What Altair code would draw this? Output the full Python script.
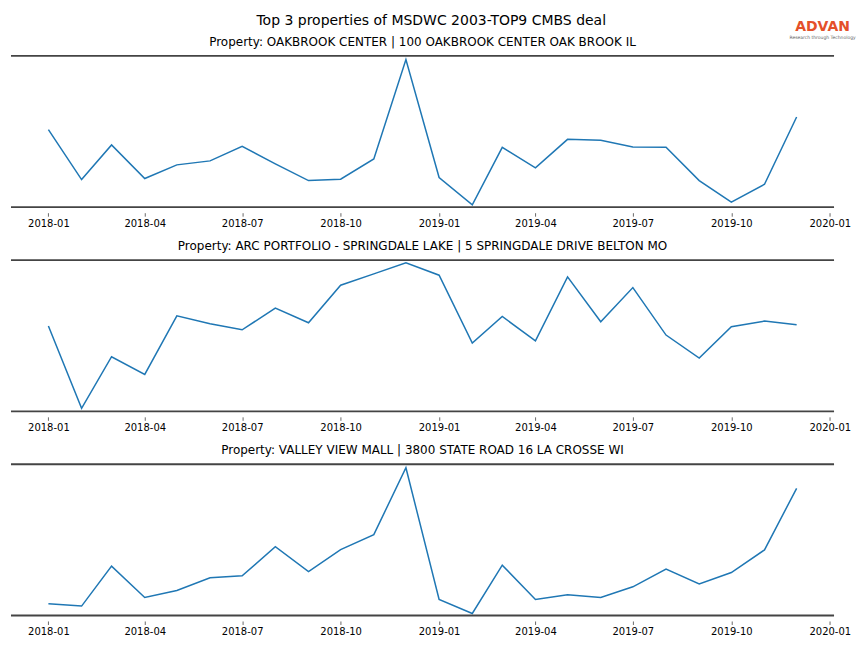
import altair as alt
import pandas as pd

# ---- data ----
months = [
    "2018-01-01T00:00:00", "2018-02-01T00:00:00", "2018-03-01T00:00:00", "2018-04-01T00:00:00",
    "2018-05-01T00:00:00", "2018-06-01T00:00:00", "2018-07-01T00:00:00", "2018-08-01T00:00:00",
    "2018-09-01T00:00:00", "2018-10-01T00:00:00", "2018-11-01T00:00:00", "2018-12-01T00:00:00",
    "2019-01-01T00:00:00", "2019-02-01T00:00:00", "2019-03-01T00:00:00", "2019-04-01T00:00:00",
    "2019-05-01T00:00:00", "2019-06-01T00:00:00", "2019-07-01T00:00:00", "2019-08-01T00:00:00",
    "2019-09-01T00:00:00", "2019-10-01T00:00:00", "2019-11-01T00:00:00", "2019-12-01T00:00:00",
]

main_title = "Top 3 properties of MSDWC 2003-TOP9 CMBS deal"

subtitles = [
    "Property: OAKBROOK CENTER | 100 OAKBROOK CENTER OAK BROOK IL",
    "Property: ARC PORTFOLIO - SPRINGDALE LAKE | 5 SPRINGDALE DRIVE BELTON MO",
    "Property: VALLEY VIEW MALL | 3800 STATE ROAD 16 LA CROSSE WI",
]

oakbrook = [77.7, 27.7, 62.4, 28.7, 42.4, 46.4, 61.0, 43.4, 26.7, 28.0, 48.4, 148.0,
            29.7, 2.4, 60.0, 39.4, 68.0, 67.0, 60.4, 60.0, 26.7, 5.0, 23.0, 90.4]
springdale = [85.4, 3.0, 54.7, 37.0, 95.7, 87.7, 81.7, 103.4, 88.7, 126.4, 137.7, 148.7,
              136.4, 68.4, 95.0, 70.7, 134.7, 89.7, 124.0, 76.4, 53.4, 84.7, 90.4, 86.7]
valley_view = [11.7, 9.4, 49.4, 18.0, 25.0, 37.7, 39.7, 69.0, 44.0, 66.0, 81.0, 148.0,
               16.0, 2.0, 50.4, 16.0, 20.7, 18.0, 28.7, 46.4, 31.7, 43.0, 65.7, 127.4]

series = [oakbrook, springdale, valley_view]
y_max = 151.5

tick_dates = [(2018, 1), (2018, 4), (2018, 7), (2018, 10), (2019, 1),
              (2019, 4), (2019, 7), (2019, 10), (2020, 1)]

W = 824.5
H = 151.5
FONT = "DejaVu Sans"

x_domain = [
    alt.DateTime(year=2017, month=11, date=27, hours=1, minutes=12),
    alt.DateTime(year=2020, month=1, date=4, hours=22, minutes=48),
]
tick_values = [alt.DateTime(year=y, month=m, date=1) for (y, m) in tick_dates]


def text_layer(txt, x, y, size, color="black", weight="normal"):
    return alt.Chart(pd.DataFrame({"t": [txt]})).mark_text(
        font=FONT, fontSize=size, color=color, fontWeight=weight,
        align="center", baseline="alphabetic"
    ).encode(text="t:N", x=alt.value(x), y=alt.value(y))


def panel(i):
    df = pd.DataFrame({"month": months, "value": series[i]})
    line = alt.Chart(df).mark_line(color="#1f77b4", strokeWidth=1.5).encode(
        x=alt.X(
            "month:T",
            scale=alt.Scale(domain=x_domain, nice=False),
            axis=alt.Axis(
                values=tick_values, format="%Y-%m", title=None, domain=False, grid=False,
                offset=5.5, tickSize=3.5, tickColor="#444", tickWidth=0.8,
                labelPadding=2.5, labelFont=FONT, labelFontSize=10, labelColor="black",
                labelFlush=False, labelOverlap=False, labelAngle=0,
            ),
        ),
        y=alt.Y("value:Q", scale=alt.Scale(domain=[0, y_max], nice=False, zero=False), axis=None),
    )
    one = pd.DataFrame({"a": [0]})
    top_spine = alt.Chart(one).mark_rule(color="#444", strokeWidth=1.8).encode(
        x=alt.value(0), x2=alt.value(W), y=alt.value(0))
    bottom_spine = alt.Chart(one).mark_rule(color="#444", strokeWidth=1.8).encode(
        x=alt.value(0), x2=alt.value(W), y=alt.value(H))
    layers = [line, top_spine, bottom_spine, text_layer(subtitles[i], W / 2, -10.4, 12)]
    if i == 0:
        layers += [
            text_layer(main_title, 421, -31, 14),
            text_layer("ADVAN", 813, -24.7, 14, color="#e4502a", weight="bold"),
            text_layer("Research through Technology", 813, -16.7, 4.5, color="#666"),
        ]
    return alt.layer(*layers).properties(width=W, height=H)


chart = alt.vconcat(panel(0), panel(1), panel(2), spacing=52.5, bounds="flush").properties(
    padding={"left": 2, "top": 5.5, "right": 0, "bottom": 0}
).configure_view(stroke=None)

chart.save("out.html", embed_options={"renderer": "svg", "actions": False})
